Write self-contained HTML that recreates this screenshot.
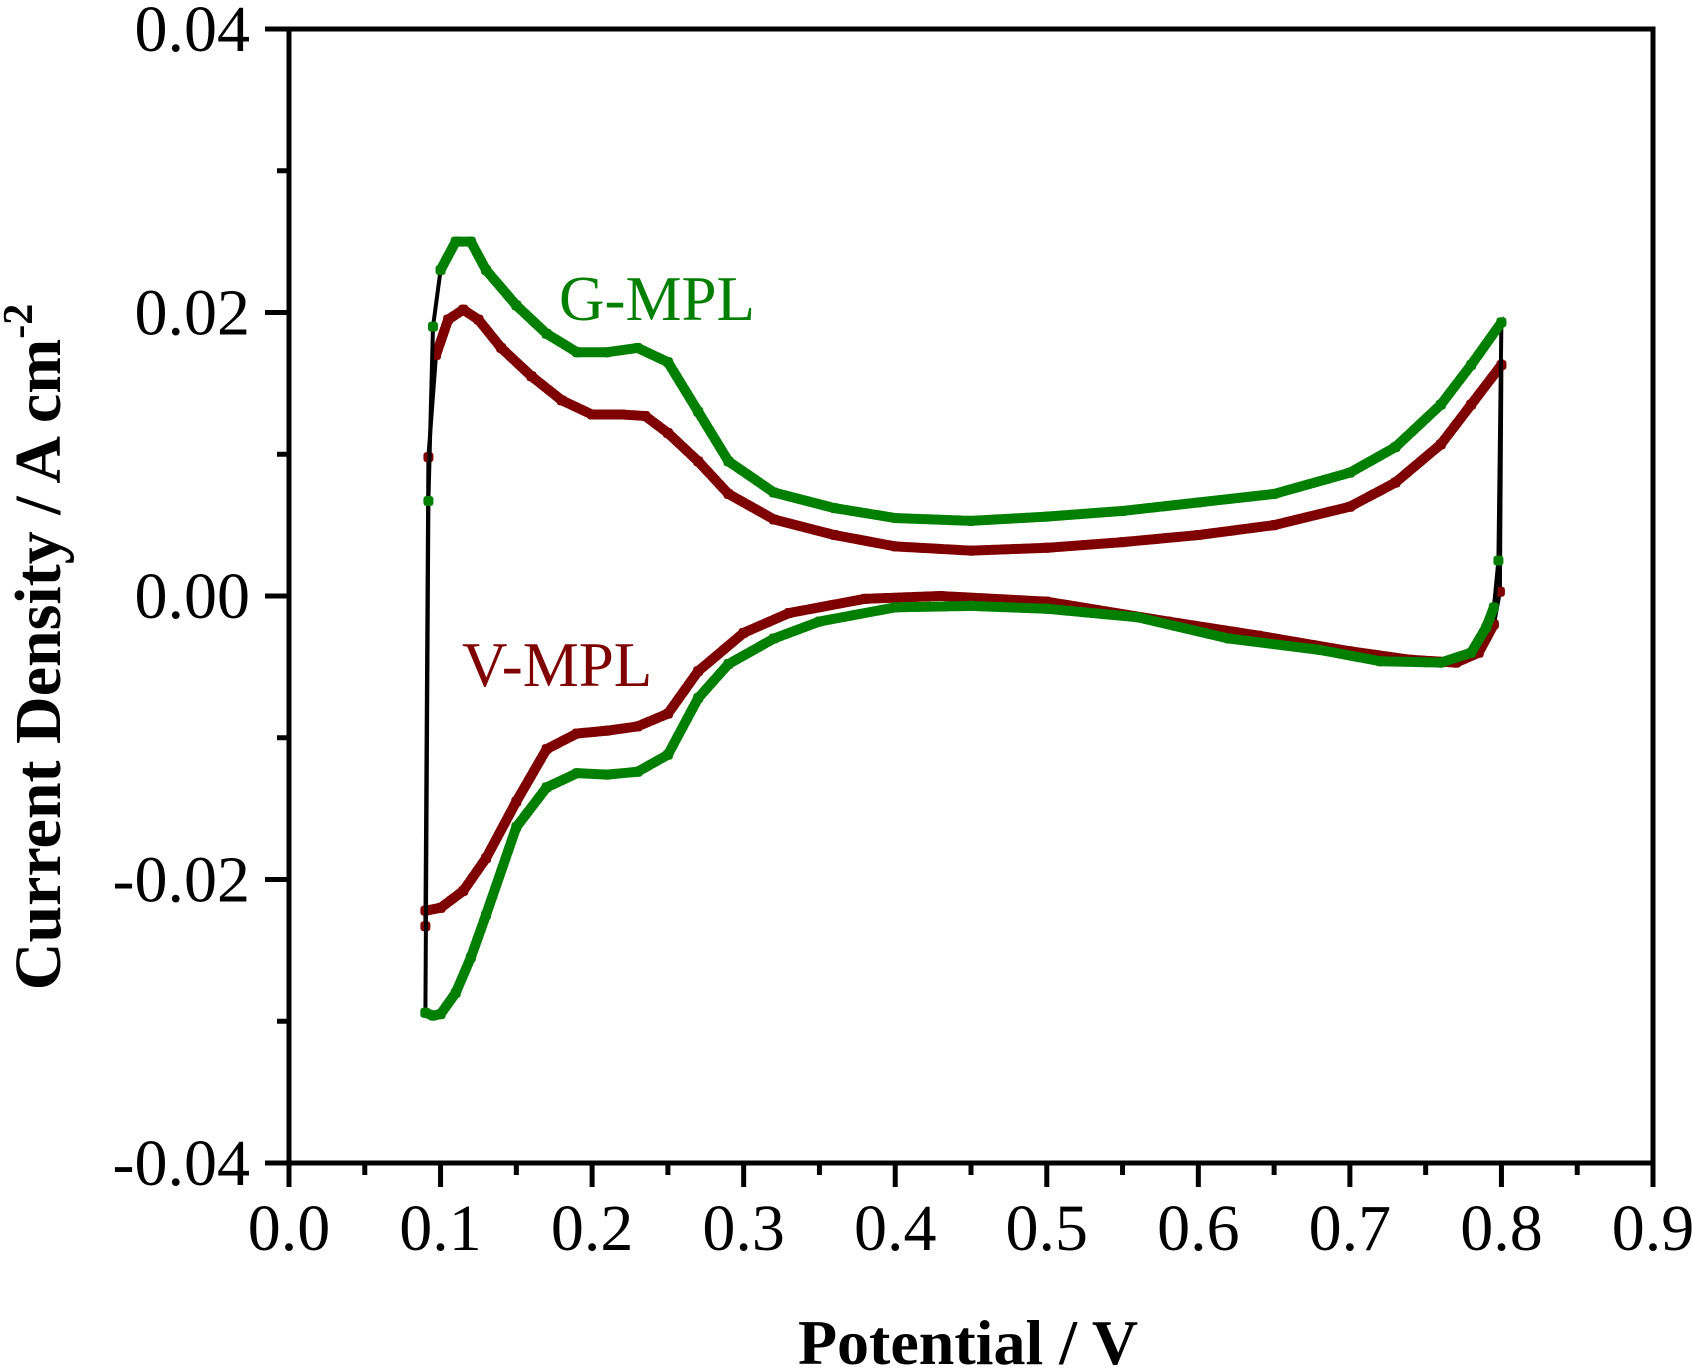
<!DOCTYPE html>
<html><head><meta charset="utf-8"><style>
html,body{margin:0;padding:0;background:#fff;}
svg{display:block;font-family:"Liberation Serif",serif;}
</style></head><body>
<svg id="chart" width="1692" height="1372" viewBox="0 0 1692 1372">
<g id="plot"></g>
<g id="axes"></g>
<text x="559" y="320" font-size="63" fill="#007f00">G-MPL</text>
<text x="462" y="686" font-size="63" fill="#7f0000">V-MPL</text>
<text x="968" y="1364" font-size="64" font-weight="bold" text-anchor="middle">Potential / V</text>
<text transform="translate(60,647) rotate(-90)" font-size="66" font-weight="bold" text-anchor="middle">Current Density / A cm<tspan dy="-28" font-size="42">-2</tspan></text>
</svg>
<script>
const xTicks=[0,0.1,0.2,0.3,0.4,0.5,0.6,0.7,0.8,0.9];
const xTickLabels=["0.0","0.1","0.2","0.3","0.4","0.5","0.6","0.7","0.8","0.9"];
const yTicks=[-0.04,-0.02,0,0.02,0.04];
const yTickLabels=["-0.04","-0.02","0.00","0.02","0.04"];
const gX=[0.09,0.092,0.095,0.1,0.11,0.12,0.13,0.15,0.17,0.19,0.21,0.23,0.25,0.27,0.29,0.32,0.36,0.4,0.45,0.5,0.55,0.6,0.65,0.7,0.73,0.76,0.78,0.8,
0.798,0.795,0.79,0.78,0.76,0.72,0.68,0.62,0.56,0.5,0.45,0.4,0.35,0.32,0.29,0.27,0.25,0.23,0.21,0.19,0.17,0.15,0.13,0.12,0.11,0.1,0.095,0.09];
const gY=[-0.0294,0.0067,0.019,0.023,0.025,0.025,0.023,0.0205,0.0185,0.0172,0.0172,0.0175,0.0165,0.013,0.0095,0.0073,0.0062,0.0055,0.0053,0.0056,0.006,0.0066,0.0072,0.0087,0.0105,0.0135,0.0163,0.0193,
0.0025,-0.0008,-0.0022,-0.004,-0.0047,-0.0046,-0.0038,-0.003,-0.0015,-0.0009,-0.0007,-0.0008,-0.0018,-0.003,-0.0048,-0.0072,-0.0112,-0.0124,-0.0126,-0.0125,-0.0135,-0.0163,-0.0225,-0.0255,-0.028,-0.0295,-0.0296,-0.0294];
const vX=[0.09,0.092,0.097,0.105,0.115,0.125,0.14,0.16,0.18,0.2,0.22,0.235,0.25,0.27,0.29,0.32,0.36,0.4,0.45,0.5,0.55,0.6,0.65,0.7,0.73,0.76,0.78,0.8,
0.799,0.795,0.785,0.77,0.74,0.7,0.64,0.58,0.5,0.43,0.38,0.33,0.3,0.27,0.25,0.23,0.21,0.19,0.17,0.15,0.13,0.115,0.1,0.09];
const vY=[-0.0233,0.0098,0.017,0.0195,0.0202,0.0195,0.0175,0.0155,0.0138,0.0128,0.0128,0.0127,0.0115,0.0095,0.0072,0.0054,0.0043,0.0035,0.0032,0.0034,0.0038,0.0043,0.005,0.0063,0.008,0.0107,0.0135,0.0163,
0.0003,-0.002,-0.004,-0.0047,-0.0045,-0.0039,-0.0028,-0.0018,-0.0004,0,-0.0002,-0.0012,-0.0026,-0.0053,-0.0083,-0.0092,-0.0095,-0.0097,-0.0108,-0.0145,-0.0185,-0.0208,-0.022,-0.0222];

const L=289,R=1653,T=29,B=1163;
const sx=v=>L+(v-0)/0.9*(R-L);
const sy=v=>B-(v+0.04)/0.08*(B-T);
const NS="http://www.w3.org/2000/svg";
const plot=document.getElementById('plot'),axes=document.getElementById('axes');
function mk(tag,attrs,parent){const e=document.createElementNS(NS,tag);for(const k in attrs)e.setAttribute(k,attrs[k]);parent.appendChild(e);return e;}

function series(xs,ys,color,name){
  const pts=xs.map((x,i)=>sx(x).toFixed(1)+','+sy(ys[i]).toFixed(1)).join(' ');
  const bl=mk('polyline',{points:pts+' '+sx(xs[0]).toFixed(1)+','+sy(ys[0]).toFixed(1),fill:'none',stroke:'#000','stroke-width':4},plot);
  
  
  for(let i=0;i<xs.length-1;i++){
    const x1=sx(xs[i]),y1=sy(ys[i]),x2=sx(xs[i+1]),y2=sy(ys[i+1]);
    const dx=Math.abs(x2-x1),dy=Math.abs(y2-y1);
    if(dy>4*dx+8) continue;
    const seg=mk('line',{x1:x1,y1:y1,x2:x2,y2:y2,stroke:color,'stroke-width':10,'stroke-linecap':'round','stroke-dasharray':'8 2'},plot);
    
    
  }
  xs.forEach((x,i)=>{
    const r=mk('rect',{x:sx(x)-5,y:sy(ys[i])-5,width:10,height:10,rx:3,fill:color},plot);
    
    
  });
}
series(vX,vY,'#7f0000','v-mpl');
series(gX,gY,'#007f00','g-mpl');

const frame=mk('rect',{x:L,y:T,width:R-L,height:B-T,fill:'none',stroke:'#000','stroke-width':5},axes);


xTicks.forEach((t,i)=>{
  const x=sx(t);
  const tk=mk('line',{x1:x,y1:B,x2:x,y2:B+24,stroke:'#000','stroke-width':5},axes);
  
  
  if(i<xTicks.length-1){
    const m=mk('line',{x1:sx(t+0.05),y1:B,x2:sx(t+0.05),y2:B+12,stroke:'#000','stroke-width':5},axes);
    
    
  }
  const lb=mk('text',{x:x,y:1250,'font-size':66,'text-anchor':'middle'},axes);
  lb.textContent=xTickLabels[i];
  
  
});
yTicks.forEach((t,i)=>{
  const y=sy(t);
  const tk=mk('line',{x1:L-24,y1:y,x2:L,y2:y,stroke:'#000','stroke-width':5},axes);
  
  
  if(i<yTicks.length-1){
    const m=mk('line',{x1:L-12,y1:sy(t+0.01),x2:L,y2:sy(t+0.01),stroke:'#000','stroke-width':5},axes);
    
    
  }
  const lb=mk('text',{x:250,y:y+22,'font-size':66,'text-anchor':'end'},axes);
  lb.textContent=yTickLabels[i];
  
  
});
</script>
</body></html>
